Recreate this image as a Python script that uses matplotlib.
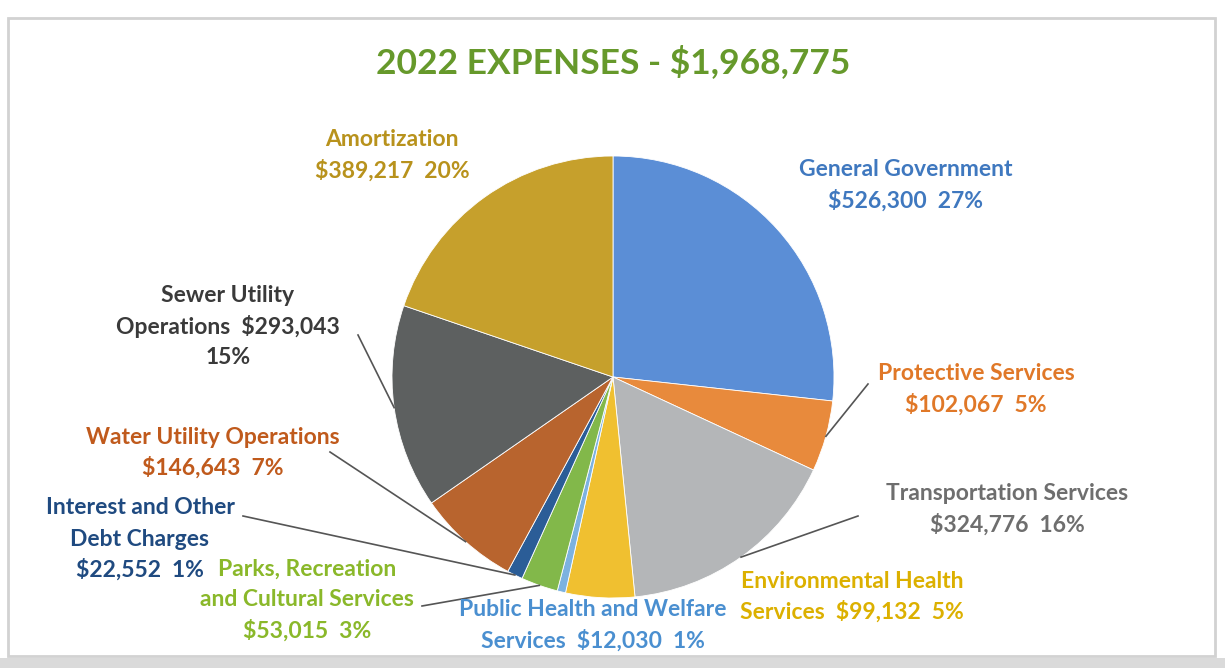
import numpy as np
import matplotlib
matplotlib.use("Agg")
import matplotlib.pyplot as plt
from matplotlib.patches import Rectangle

plt.rcParams["font.family"] = ["Lato", "DejaVu Sans"]

W, H = 1225, 668

categories = [
    "General Government", "Protective Services", "Transportation Services",
    "Environmental Health Services", "Public Health and Welfare Services",
    "Parks, Recreation and Cultural Services", "Interest and Other Debt Charges",
    "Water Utility Operations", "Sewer Utility Operations", "Amortization",
]
amounts = [526300, 102067, 324776, 99132, 12030, 53015, 22552, 146643, 293043, 389217]
percents = [27, 5, 16, 5, 1, 3, 1, 7, 15, 20]
total = 1968775

wedge_colors = ["#5b8ed6", "#e88a3c", "#b4b6b8", "#f0c030", "#7cb2e0",
                "#82b84a", "#2b5d97", "#b8642e", "#5d6060", "#c6a02c"]
text_colors = ["#3f78bf", "#e07828", "#6e6e6e", "#dcb000", "#4a8fd0",
               "#8ab82a", "#1f4a80", "#c05a1c", "#3a3a3a", "#b8921c"]

# label text lines, anchor (px, top-origin), leader start (px) or None
label_lines = [
    ["General Government", "{amt}  {pct}"],
    ["Protective Services", "{amt}  {pct}"],
    ["Transportation Services", "{amt}  {pct}"],
    ["Environmental Health", "Services  {amt}  {pct}"],
    ["Public Health and Welfare", "Services  {amt}  {pct}"],
    ["Parks, Recreation", "and Cultural Services", "{amt}  {pct}"],
    ["Interest and Other", "Debt Charges", "{amt}  {pct}"],
    ["Water Utility Operations", "{amt}  {pct}"],
    ["Sewer Utility", "Operations  {amt}", "{pct}"],
    ["Amortization", "{amt}  {pct}"],
]
label_xy = [(906, 170), (976, 374), (1007, 494), (852, 581), (593, 610),
            (307, 569), (140, 508), (213, 437), (228, 295), (392, 140)]
leader_start = [None, (868, 384), (858, 516), None, None,
                (422, 606), (243, 516), (330, 452), (358, 335), None]

line_h = 31
cx, cy, r = 613, 377, 221


def fy(y):
    return H - y


fig = plt.figure(figsize=(W / 100, H / 100), dpi=100)
ax = fig.add_axes([0, 0, 1, 1])

wedges, _ = ax.pie(amounts, colors=wedge_colors, startangle=90, counterclock=False,
                   center=(cx, fy(cy)), radius=r, frame=True,
                   wedgeprops=dict(edgecolor="white", linewidth=0.6))
ax.set_xlim(0, W)
ax.set_ylim(0, H)
ax.set_aspect("equal")
ax.axis("off")

# scanned page frame
ax.add_patch(Rectangle((8, fy(656)), 1207, 638, fill=False,
                       edgecolor="#d2d2d2", linewidth=2))
ax.add_patch(Rectangle((0, 0), W, fy(658), color="#dadada", linewidth=0))

ax.text(cx, fy(62), f"2022 EXPENSES - ${total:,}", ha="center", va="center",
        fontsize=25.5, fontweight="bold", color="#66992b")

for i, w in enumerate(wedges):
    amt = f"${amounts[i]:,}"
    pct = f"{percents[i]}%"
    x0, y0 = label_xy[i]
    for k, line in enumerate(label_lines[i]):
        ax.text(x0, fy(y0 + k * line_h), line.format(amt=amt, pct=pct),
                ha="center", va="center", fontsize=16.5, fontweight="bold",
                color=text_colors[i])
    if leader_start[i] is not None:
        mid = np.deg2rad((w.theta1 + w.theta2) / 2)
        ex = cx + r * np.cos(mid)
        ey = fy(cy) + r * np.sin(mid)
        sx, sy = leader_start[i]
        ax.plot([sx, ex], [fy(sy), ey], color="#555555", linewidth=1.2)

fig.savefig("out.png", dpi=100)
